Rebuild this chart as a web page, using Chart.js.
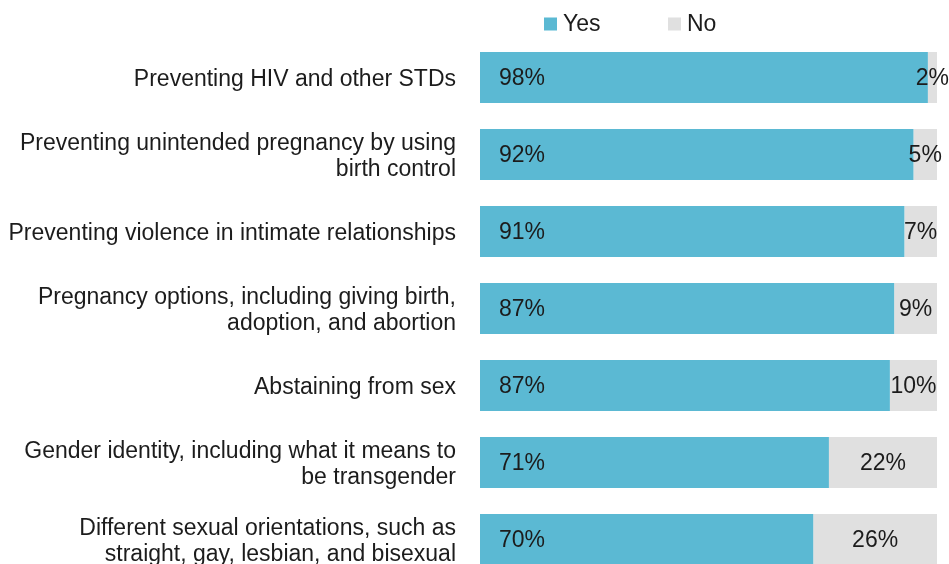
<!DOCTYPE html>
<html>
<head>
<meta charset="utf-8">
<script src="https://cdn.jsdelivr.net/npm/chart.js@4.4.1/dist/chart.umd.min.js"></script>
<style>
  html, body { margin: 0; padding: 0; background: #fff; overflow: hidden; }
  #wrap { position: relative; width: 949px; height: 620px; }
</style>
</head>
<body>
<div id="wrap"><canvas id="topicsChart"></canvas></div>
<script>
const topics = [
    'Preventing HIV and other STDs',
    ['Preventing unintended pregnancy by using', 'birth control'],
    'Preventing violence in intimate relationships',
    ['Pregnancy options, including giving birth,', 'adoption, and abortion'],
    'Abstaining from sex',
    ['Gender identity, including what it means to', 'be transgender'],
    ['Different sexual orientations, such as', 'straight, gay, lesbian, and bisexual']
];
const yesValues = [98, 92, 91, 87, 87, 71, 70];
const noValues = [2, 5, 7, 9, 10, 22, 26];

// bars are drawn as shares of the answered total, labels show the raw percentages
const yesShare = yesValues.map((v, i) => v / (v + noValues[i]) * 100);
const noShare = noValues.map((v, i) => v / (yesValues[i] + v) * 100);

const fontFamily = '"Liberation Sans", Arial, Helvetica, sans-serif';
const textColor = '#1c1c1c';
const fontSize = 23;

// value labels inside the bars
const valueLabels = {
    id: 'valueLabels',
    afterDatasetsDraw(chart) {
        const ctx = chart.ctx;
        ctx.save();
        ctx.font = fontSize + 'px ' + fontFamily;
        ctx.fillStyle = textColor;
        ctx.textBaseline = 'middle';
        chart.data.datasets.forEach((ds, di) => {
            const meta = chart.getDatasetMeta(di);
            meta.data.forEach((bar, i) => {
                const txt = ds.raw[i] + '%';
                if (di === 0) {
                    ctx.textAlign = 'left';
                    ctx.fillText(txt, bar.base + 19, bar.y + 1);
                } else {
                    ctx.textAlign = 'center';
                    ctx.fillText(txt, (bar.base + bar.x) / 2, bar.y + 1);
                }
            });
        });
        ctx.restore();
    }
};

// legend drawn above the bars
const topLegend = {
    id: 'topLegend',
    afterDraw(chart) {
        const ctx = chart.ctx;
        const itemX = [544, 668];
        const y = 24;
        ctx.save();
        ctx.font = fontSize + 'px ' + fontFamily;
        ctx.textBaseline = 'middle';
        ctx.textAlign = 'left';
        chart.data.datasets.forEach((ds, i) => {
            ctx.fillStyle = ds.backgroundColor;
            ctx.fillRect(itemX[i], y - 6.5, 13, 13);
            ctx.fillStyle = textColor;
            ctx.fillText(ds.label, itemX[i] + 19, y + 1);
        });
        ctx.restore();
    }
};

const ctx = document.getElementById('topicsChart').getContext('2d');
const topicsChart = new Chart(ctx, {
    type: 'bar',
    data: {
        labels: topics,
        datasets: [
            {
                label: 'Yes',
                data: yesShare,
                raw: yesValues,
                backgroundColor: '#5bb9d3',
                borderWidth: 0
            },
            {
                label: 'No',
                data: noShare,
                raw: noValues,
                backgroundColor: '#e0e0e0',
                borderWidth: 0
            }
        ]
    },
    options: {
        indexAxis: 'y',
        responsive: true,
        maintainAspectRatio: false,
        animation: false,
        categoryPercentage: 0.662,
        barPercentage: 1,
        layout: {
            padding: { top: 39, right: 12, bottom: 42, left: 0 }
        },
        plugins: {
            legend: { display: false },
            tooltip: { enabled: false }
        },
        scales: {
            x: {
                stacked: true,
                display: false,
                min: 0,
                max: 100
            },
            y: {
                stacked: true,
                grid: { display: false, drawTicks: false },
                border: { display: false },
                ticks: {
                    color: textColor,
                    padding: 24,
                    labelOffset: 2,
                    font: { family: fontFamily, size: fontSize, lineHeight: 1.15 }
                },
                afterFit: function (scale) {
                    scale.width = 480; // bars start at x = 480
                    scale.paddingTop = 0;
                    scale.paddingBottom = 0;
                }
            }
        }
    },
    plugins: [valueLabels, topLegend]
});
</script>
</body>
</html>
